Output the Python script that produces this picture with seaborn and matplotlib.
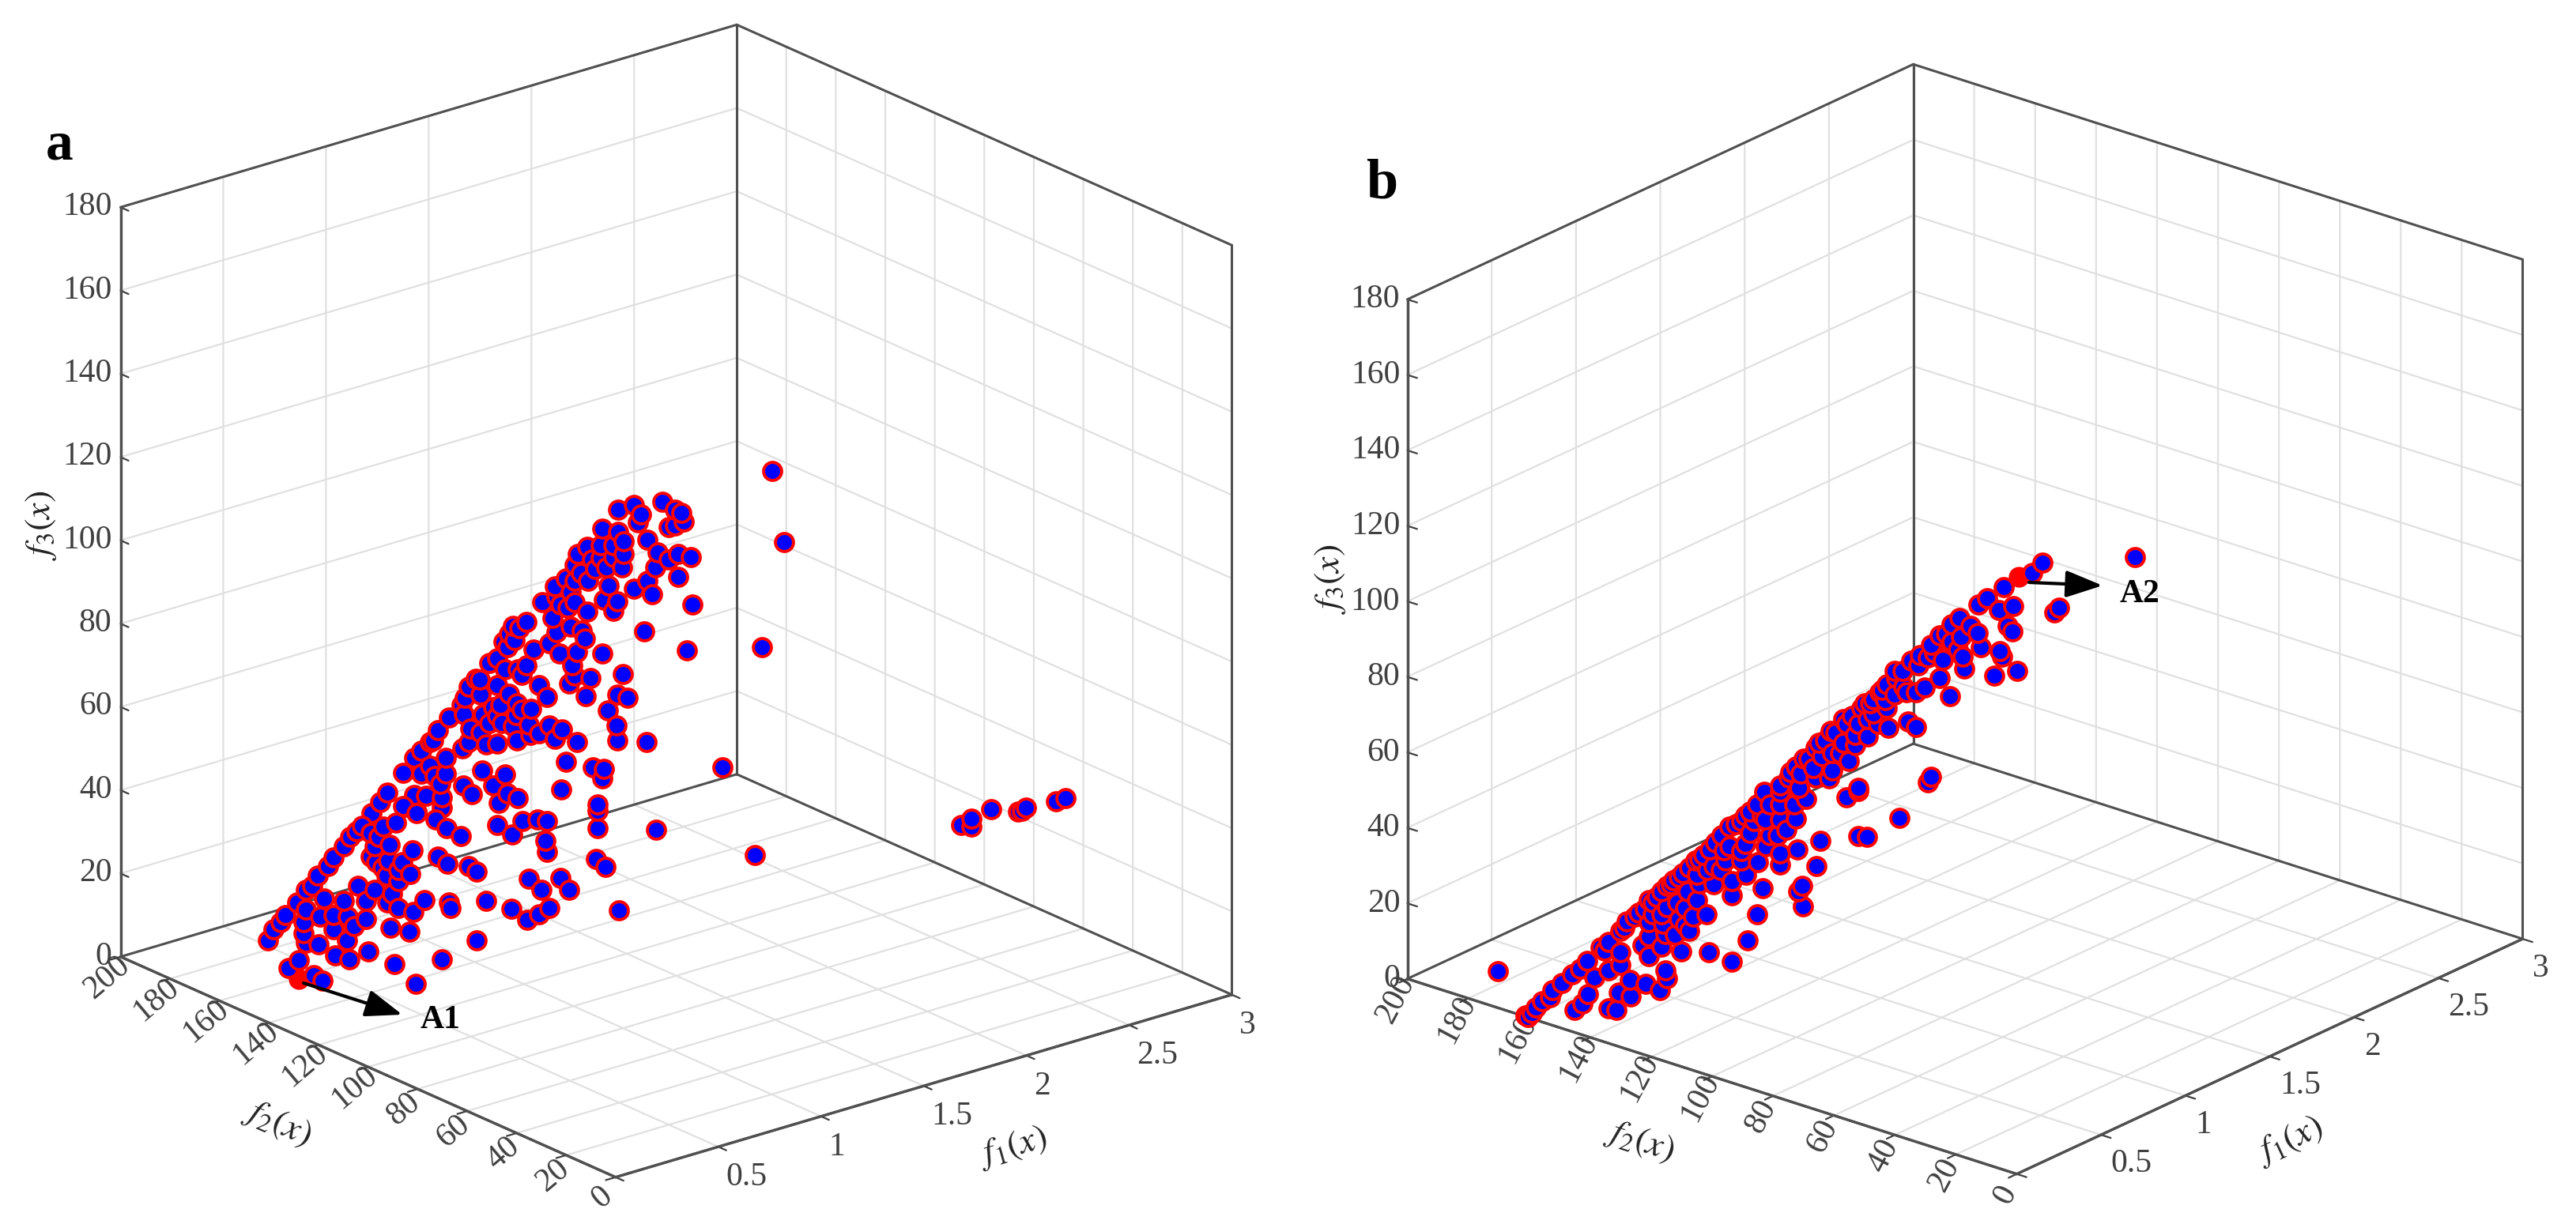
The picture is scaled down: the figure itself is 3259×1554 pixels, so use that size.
import numpy as np
import matplotlib
matplotlib.use("Agg")
import matplotlib.pyplot as plt
import seaborn as sns
from mpl_toolkits.mplot3d import Axes3D  # noqa

# ---------- values ----------
f1_ticks = [0, 0.5, 1, 1.5, 2, 2.5, 3]
f1_labels = ["", "0.5", "1", "1.5", "2", "2.5", "3"]
f2_ticks = [0, 20, 40, 60, 80, 100, 120, 140, 160, 180, 200]
f2_labels = ["0", "20", "40", "60", "80", "100", "120", "140", "160", "180", "200"]
f3_ticks = [0, 20, 40, 60, 80, 100, 120, 140, 160, 180]
f3_labels = ["0", "20", "40", "60", "80", "100", "120", "140", "160", "180"]

# panel a, lower part of the sheet (f1 about 0.2)
a_low_f2 = [148.6,144.7,138.5,134.9,157.2,151.9,142.6,142.6,145.3,139.3,132.8,126.3,121.4,120.6,134.4,126.3,117.4,136.1,124.7,117.4,130.7,122.2,136.6,125.2,130.0,124.2,116.6,106,86.8,97.3,72.6,107.6,99.8,98.3,93.8,108.7,104.3,84,83.2,68.9,58.8,52.3,47.4,43.3,46.6,51.8,38.9,35.5,15.2,113.8,106.8,109.2,104.3,99.5,113.3,108.4,102.7,107.9,114.1,98.6,88.4,84.5,75.9,72.6,110.5,105.2,115.7,79.1,84.8,89.4,97,102.4,64.5,58.5,54.2,48.2,44.2,45,44.2,23.8,23.8,23.8,24.6,20.6,0.2,
            149.9,154.8,141.8,136.9,130.4,123.9,119,112.5,115.7,110.8,104.3,141.8,130.4,141.8]
a_low_f3 = [7.95,11.0,8.96,8.56,12.37,18.16,20.62,17.93,24.59,30.21,36.64,43.07,48.06,35.18,28.49,29.98,32.36,23.69,26.72,28.0,22.1,25.02,16.85,20.75,15.9,16.45,20.36,20.29,26.4,17.69,34.66,28.58,29.65,34.74,38.77,34.32,34.14,40.89,39.76,45.25,45.92,44.96,47.73,50.36,53.85,55.02,58.57,56.79,57.17,35.99,36.85,40.69,40.52,43.5,42.83,44.47,45.64,48.29,46.31,49.41,50.6,49.95,51.78,51.3,51.95,54.39,49.23,58.09,58.46,59.39,58.9,59.15,64.53,63.98,68.26,70.2,70.94,66.03,63.56,74.68,78.7,80.38,67.08,66.14,80.41,
            20.4,15.7,28.6,33.2,39.3,46.1,50,49.1,43.5,42.1,43.2,23.9,25.6,15.8]

# panel a, upper part of the sheet (f1 about 0.6)
a_up_f2 = [48.7,42.3,39.4,40.9,30.9,25.9,23.1,22.4,25.9,28.3,55.1,48.7,46.6,61.2,55.8,50.8,46.6,55.8,50.8,47.3,66.5,58,37,32.8,24.5,19.5,28.3,33.8,24.5,37,42.3,35.2,18.8,70,74.3,67.9,60.8,52.7,54.4,49.1,50.6,79.6,69.3,61.2,75.3,85.7,88.6,90.7,93.6,67.9,73.6,63.6,62.2,76.5,82.9,72.5,65.4,55.1,38.4,20.9,97.8,94.3,89.3,85.7,87.9,67.2,66.5,60.1,68.6,104.7,97.5,104.2,92.8,80.7,77.6,61.8,47,49.1,44.9,53,110.6,99.3,89.6,83.9,117,110.9,103.5,90,95.7,91.4,85,76.5,71.5,121.7,108.5,104.2,84.3,89.6,74.3,65.4,49.4,49.1,37.3,123.5,109.2,111.6,97.5,128.4,118.5,124.9,118.5,135.6,128.4,70,59.1,54.4,55.1,6.7,103.8,94.3,99.3,111.4,107.8,93.6,89.3,71.9,142,131.3,126.3,119.9,144.8,135.1,130.3,119.9,97.1,148.4,
           65.1,59.4,53.7,63.7,66.5,73.6,72.2,66.5,91.4,92.8,95,100.7,106.4,109.2,112.1,124.9,131.3,122.8,120.6,100.7,97.8,87.9,80.7,102.1,96.4]
a_up_f3 = [138.7,141.5,139.9,137.6,145.2,144.7,144.7,142.8,140.9,139.8,132.4,133.3,131.6,126.4,128.2,129.6,128.5,125.1,126.7,125.1,120.7,122,134.5,132.7,134.4,134.9,132.1,128.7,129,124.6,121.3,121.9,123.8,116.5,113.5,113.9,118.4,119.4,115.6,116.6,113.8,108.2,109.6,110.8,105.6,101.9,99.6,96.2,93.8,105.4,102.6,105.6,104.1,99.3,96,97.9,100.1,102.4,112.1,112.2,89.9,88.3,89.6,91.5,88.7,96.4,94.1,95.3,91.6,83.1,83.6,79.6,82.8,88.1,86.1,90.3,99.7,94.1,94.4,89.3,77.1,77.9,81.3,81.5,70.7,73.1,75,78.3,74.9,75.4,77.4,79.4,79.8,66.4,70.2,70.4,75.1,72.4,76.8,78.5,86.7,83.2,85.8,63.4,66.9,64.7,69.6,59.6,60.6,57,56.8,52.4,54.2,72.5,74,74.8,72.4,87.9,61.4,63,59.1,55.9,54.6,58.7,58.6,65.3,46,48.2,49.4,50.8,42.9,44.5,44.5,48.2,55.5,39.4,
           123.6,123.8,123.4,119.5,116.9,111.2,109.6,111.8,99.5,97.2,94.7,88.1,82.8,80.2,75,62.7,57.2,55.1,53.7,73.6,76.2,80.2,76.4,68.1,79.2]

# panel a, the separate points
a_far_f1 = [1.0,1.0,1.0,1.0,2.2,2.2,2.2,2.2,2.2,2.2,2.2,2.2,2.2]
a_far_f2 = [19.8,15,23.9,26.8,42.9,38.8,38.8,30.7,20.1,16.8,18.5,4.7,0.9]
a_far_f3 = [149.8,134,106.4,55.7,41,43.7,41.7,48.1,50.3,52.2,51,56.9,58.7]
a_mark = [0.2, 144.7, 6.3]

# panel b, lower part of the ridge (f1 near 0)
b_low_f2 = [170.3,160.4,159.1,161.1,157.8,155.8,153.1,152.5,149.2,145.9,143.2,141,136.6,133.9,130,135.3,124,128,119.4,120.7,116.7,114.8,112.8,109.5,105.5,102.8,98.9,94.2,90.3,85.2,87.6,145.2,140.6,138.6,142.6,133.9,131.3,130.6,126.7,127.1,130,133.9,130.2,121.8,117.1,115.4,114.8,120.7,122.7,120.7,116.1,116.7,110.1,101.1,93.6,88.3,85.2,101.8,107.5,112.1,110.8,108.8,114.8,119.4,108.1,104.2,99.5,93.6,93.6,83.4,88.9,97.2,101.5,90.3,85,96.2,90.3,77.7,77.7,72,64.5,65.8,70.4,71.7,70.2,51.9,49.2,38.4,55.9,51.9,77.7,72.4,82.6,78.4,87.6,81,77.7,71.1,69.1,77.7,83,
            128.7,125.3,122,118.1,113.4,110.8,107.5,104.2,100.9,96.9,92.3,89,104.8,111.4,106.2,108.8,116.7,120.7,115.4,83.7,89,94.2,95.6,82.3,75.7,73.1,81,86.3,104.8,99.5]
b_low_f3 = [9.7,0.2,1.6,0.4,3.3,5.5,7.3,9.3,12,15.1,17.3,20.1,24.6,26.8,30.8,24.2,37.2,33.9,41,41.4,44.6,46.7,48.7,51.4,55.8,57.9,62.3,67.6,70.1,75.9,73.4,6,11.3,16.3,8.2,9.3,9.6,14.4,14.2,18.5,21.7,19.3,25.1,18.8,18.4,24.2,22.1,26.5,29,31.7,36.3,30.1,30.4,32.6,32.1,39,46.7,42.4,36.6,34.3,38.8,42.3,41.1,38,46.9,50.1,51,53.3,49.6,54.1,56.3,55.3,54.2,59.7,60.7,60.8,62.3,61.9,64.8,67.4,71.6,64.6,58.2,56.3,52.7,76.2,76.7,84.4,85.4,88.1,73.8,75.5,72.5,69.5,67.8,68.8,77.9,83.3,81.6,81.2,79.8,
            31.9,35.7,38.8,42.8,47.4,49.9,53.4,56.5,59.9,64.7,68.9,72,45.5,43.1,40.7,37.8,38.7,35.4,33.8,73.3,64.5,62.4,58.3,65.5,71.7,79.1,77,71.2,52.2,55.8]

# panel b, upper part of the ridge (f1 about 0.6)
b_up_f2 = [24.7,28.2,37.6,43,45.8,39.1,34.4,21,19.2,36.1,34.6,52,54.5,48.5,46,58.4,61.4,54.5,64.9,67.9,45,38.8,38.1,51,50.5,57.4,58.4,40.6,33.1,63.4,55.1,70.8,72.8,75.8,70.3,66.4,80.3,78.3,84.2,87.2,82.2,75.8,78.8,75.3,68.8,66.4,92.7,89.2,86.2,82.2,96.2,99.1,93.7,88.2,101.6,105.6,100.1,93.7,94.7,85.2,61.4,62.4,108,111,104.6,
           73.3,77.3,81.3,90.2,94.2,98.1,103.1,107.6,83.2,76.3,73.3,65.4,60.4,56.4,51.5,52.5,62.4,69.3,80.3,85.2,90.2,86.2,91.2,97.1,104.1,99.1]
b_up_f3 = [143.2,139.5,133.2,129,126.5,126.9,129.1,130.9,132.7,123.4,122.3,121.4,119,120.2,118.9,115.2,111.9,114.5,108.2,106,115.4,116.1,114.8,111.5,108.5,108.9,103.9,109.1,112.3,100.1,99.9,102.6,100.2,97.7,98.4,98,92.6,94.9,89.2,86.3,86.9,91.4,86.4,86.2,89.6,88.9,80.6,83.7,81.6,82.3,77.6,74.8,74.8,74.1,71.3,68.2,69.2,70.2,67.8,67.8,76.8,75.2,64.7,61.8,62.8,
           101.8,95.9,91.3,84.8,80.6,76.4,70.9,66.3,90.8,93.3,95.5,105.3,110.1,116,116.6,112.9,108.2,97.2,88.8,84.7,78.5,78.8,75.4,73.2,66.8,67]

b_far = [1.0, 16.5, 138.4]
b_mark = [0.6, 32.6, 137.3]

# ---------- style ----------
sns.set_theme(style="white")
plt.rcParams["font.family"] = ["Liberation Serif", "DejaVu Serif"]
plt.rcParams["mathtext.fontset"] = "stix"
plt.rcParams["xtick.major.width"] = 1.6
plt.rcParams["ytick.major.width"] = 1.6
FILL, EDGE = sns.color_palette(["#0000ff", "#ff0000"])
DARK, GRID, TXT = "#505050", "#e0e0e0", "#404040"
W_PX, H_PX = 3259, 1554
fig = plt.figure(figsize=(W_PX / 100, H_PX / 100), dpi=100, facecolor="white")


def panel(center, lengths, elev, azim, rot, zpad):
    norm = np.linalg.norm(lengths)
    side = 1.85 * norm / (1.8294640721620434 * 25 / 24)
    frac = 0.095 / 0.185
    left = (center[0] - frac * side) / W_PX
    bottom = (H_PX - center[1] - frac * side) / H_PX
    ax = fig.add_axes([left, bottom, side / W_PX, side / H_PX], projection="3d", proj_type="ortho")
    ax.patch.set_alpha(0)
    ax.set_box_aspect(lengths)
    ax.view_init(elev=elev, azim=azim)
    ax.set_xlim(0, 3, view_margin=0)
    ax.set_ylim(0, 200, view_margin=0)
    ax.set_zlim(0, 180, view_margin=0)
    ax.set_xticks(f1_ticks)
    ax.set_yticks(f2_ticks)
    ax.set_zticks(f3_ticks)
    ax.set_xticklabels(f1_labels, ha="left", va="top", fontsize=30, color=TXT)
    ax.set_yticklabels(f2_labels, rotation=rot, ha="center", va="center", fontsize=30, color=TXT)
    ax.set_zticklabels(f3_labels, ha="right", va="center", fontsize=30, color=TXT)
    ax.zaxis.set_ticks_position("upper")
    ax.zaxis._get_tickdir = lambda position: 1
    ax.tick_params(axis="x", pad=2, colors=TXT)
    ax.tick_params(axis="y", pad=6, colors=TXT)
    ax.tick_params(axis="z", pad=zpad, colors=TXT)
    for axis in (ax.xaxis, ax.yaxis, ax.zaxis):
        axis.set_pane_color((1, 1, 1, 1))
        axis.line.set_color(DARK)
        axis.line.set_linewidth(2.4)
        axis._axinfo["grid"].update(color=GRID, linewidth=1.6, linestyle="-")
        axis._axinfo["tick"].update(inward_factor=0.2, outward_factor=0.0)
        axis._axinfo["tick"]["color"] = DARK
    ax.grid(True)
    # the box edges of the two walls and of the floor, over the grid lines at the limits
    x1, y1, z1 = f1_ticks[-1], f2_ticks[-1], f3_ticks[-1]
    edge = dict(color=DARK, lw=2.2, solid_capstyle="round")
    ax.plot([0, x1], [y1, y1], [z1, z1], **edge)
    ax.plot([x1, x1], [0, y1], [z1, z1], **edge)
    ax.plot([0, x1], [y1, y1], [0, 0], **edge)
    ax.plot([x1, x1], [0, y1], [0, 0], **edge)
    ax.plot([0, 0], [y1, y1], [0, z1], **edge)
    ax.plot([x1, x1], [y1, y1], [0, z1], **edge)
    ax.plot([x1, x1], [0, 0], [0, z1], **edge)
    ax.plot([0, x1], [0, 0], [0, 0], **edge)
    ax.plot([0, 0], [0, y1], [0, 0], **edge)
    return ax


def dots(ax, f1, f2, f3):
    ax.scatter(f1, f2, f3, s=270, c=[FILL], edgecolors=[EDGE], linewidths=2.8,
               depthshade=False, alpha=1)


def mark(ax, p):
    ax.scatter([p[0]], [p[1]], [p[2]], s=320, c=[EDGE], edgecolors=[EDGE],
               linewidths=1, depthshade=False, alpha=1)


ax_a = panel((855.5, 760.5), (1006, 991, 1018), 21.3, -129.2, 40, -3)
dots(ax_a, [0.2] * len(a_low_f2), a_low_f2, a_low_f3)
dots(ax_a, [0.6] * len(a_up_f2), a_up_f2, a_up_f3)
dots(ax_a, a_far_f1, a_far_f2, a_far_f3)
mark(ax_a, a_mark)

ax_b = panel((2486, 783.5), (1002, 1002, 932), 22.7, -140.3, 62, -4)
dots(ax_b, [0.0] * len(b_low_f2), b_low_f2, b_low_f3)
dots(ax_b, [0.6] * len(b_up_f2), b_up_f2, b_up_f3)
dots(ax_b, [b_far[0]], [b_far[1]], [b_far[2]])
mark(ax_b, b_mark)

# ---------- texts and arrows in picture pixels ----------
ov = fig.add_axes([0, 0, 1, 1], zorder=10)
ov.set_xlim(0, W_PX)
ov.set_ylim(H_PX, 0)
ov.axis("off")
ov.text(75, 185, "a", fontsize=50, fontweight="bold", ha="center", va="center", color="black")
ov.text(1748, 233, "b", fontsize=52, fontweight="bold", ha="center", va="center", color="black")
lab = dict(fontsize=33, ha="center", va="center", color="#222222")
ov.text(1281, 1452, r"$f_1(x)$", rotation=16, **lab)
ov.text(351, 1422, r"$f_2(x)$", rotation=-24, **lab)
ov.text(52, 665, r"$f_3(x)$", rotation=90, **lab)
ov.text(2897, 1443, r"$f_1(x)$", rotation=25, **lab)
ov.text(2075, 1445, r"$f_2(x)$", rotation=-18, **lab)
ov.text(1683, 733, r"$f_3(x)$", rotation=90, **lab)
arrow = dict(arrowstyle="-|>,head_length=0.95,head_width=0.35", color="black", lw=3,
             shrinkA=0, shrinkB=0, mutation_scale=30)
ov.annotate("", xy=(509, 1284), xytext=(384, 1244), arrowprops=arrow)
ov.annotate("", xy=(2660, 741), xytext=(2567, 737), arrowprops=arrow)
ov.text(557, 1291, "A1", fontsize=30, fontweight="bold", ha="center", va="center", color="black")
ov.text(2707, 752, "A2", fontsize=30, fontweight="bold", ha="center", va="center", color="black")

fig.savefig("out.png", dpi=100, facecolor="white")
